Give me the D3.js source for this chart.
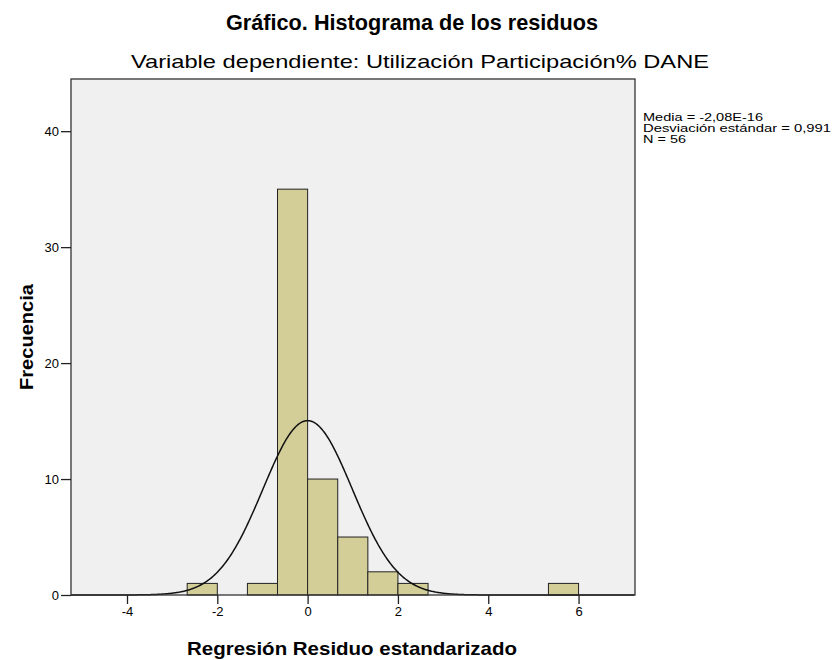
<!DOCTYPE html>
<meta charset="utf-8">
<style>
body { margin: 0; background: #fff; }
text { font-family: "Liberation Sans", Arial, sans-serif; fill: #000; }
.axis path { display: none; }
.axis line { stroke: #222; stroke-width: 1.3px; }
.axis text { font-size: 13px; fill: #000; }
.bar { fill: #d3ce97; stroke: #222; stroke-width: 1px; }
.curve { fill: none; stroke: #111; stroke-width: 1.5px; }
</style>
<svg id="chart" width="836" height="660"></svg>
<script src="https://d3js.org/d3.v7.min.js"></script>
<script>

// histogram bins (lower edge of each bin) and frequencies
var binLow = [-2.667, -1.333, -0.667, 0, 0.667, 1.333, 2, 5.333];
var counts = [1, 1, 35, 10, 5, 2, 1, 1];
var binWidth = 0.667;

// summary stats shown in the legend
var mean = -2.08e-16;
var sd = 0.991;
var n = 56;
var statLines = ["Media = -2,08E-16", "Desviación estándar = 0,991", "N = 56"];
var statWidths = [120, 188, 43];

var xTicks = [-4, -2, 0, 2, 4, 6];
var yTicks = [0, 10, 20, 30, 40];

var svg = d3.select("#chart"),
    plotLeft = 71, plotRight = 635, plotTop = 79, plotBottom = 595;

var x = d3.scaleLinear().domain([-5.24, 7.25]).range([plotLeft, plotRight]);
var y = d3.scaleLinear().domain([0, 44.5]).range([plotBottom, plotTop]);

svg.append("rect")
    .attr("x", plotLeft).attr("y", plotTop)
    .attr("width", plotRight - plotLeft).attr("height", plotBottom - plotTop)
    .attr("fill", "#f0f0f0");

var bins = binLow.map(function(b, i) { return { x0: b, x1: b + binWidth, count: counts[i] }; });

svg.append("g").selectAll("rect")
    .data(bins)
  .enter().append("rect")
    .attr("class", "bar")
    .attr("x", function(d) { return x(d.x0); })
    .attr("width", function(d) { return x(d.x1) - x(d.x0); })
    .attr("y", function(d) { return y(d.count); })
    .attr("height", function(d) { return y(0) - y(d.count); });

// normal curve scaled to the histogram
var xs = d3.range(x.domain()[0], x.domain()[1], 0.02);
var normal = function(v) {
  var z = (v - mean) / sd;
  return n * binWidth * Math.exp(-0.5 * z * z) / (sd * Math.sqrt(2 * Math.PI));
};
svg.append("path")
    .datum(xs)
    .attr("class", "curve")
    .attr("d", d3.line().x(function(d) { return x(d); }).y(function(d) { return y(normal(d)); }));

// frame
svg.append("rect")
    .attr("x", plotLeft).attr("y", plotTop)
    .attr("width", plotRight - plotLeft).attr("height", plotBottom - plotTop)
    .attr("fill", "none").attr("stroke", "#333").attr("stroke-width", 1.3);

svg.append("g")
    .attr("class", "axis")
    .attr("transform", "translate(0," + plotBottom + ")")
    .call(d3.axisBottom(x).tickValues(xTicks).tickSize(9).tickPadding(3)
      .tickFormat(function(d) { return String(d).replace("−", "-"); }));

svg.append("g")
    .attr("class", "axis")
    .attr("transform", "translate(" + plotLeft + ",0)")
    .call(d3.axisLeft(y).tickValues(yTicks).tickSize(10).tickPadding(2));

svg.append("text")
    .attr("x", 412).attr("y", 30)
    .attr("text-anchor", "middle")
    .attr("textLength", 372).attr("lengthAdjust", "spacingAndGlyphs")
    .style("font-size", "22px").style("font-weight", "bold")
    .text("Gráfico. Histograma de los residuos");

svg.append("text")
    .attr("x", 420).attr("y", 68)
    .attr("text-anchor", "middle")
    .attr("textLength", 578).attr("lengthAdjust", "spacingAndGlyphs")
    .style("font-size", "18.5px")
    .text("Variable dependiente: Utilización Participación% DANE");

svg.append("text")
    .attr("x", 352).attr("y", 655)
    .attr("text-anchor", "middle")
    .attr("textLength", 330).attr("lengthAdjust", "spacingAndGlyphs")
    .style("font-size", "19px").style("font-weight", "bold")
    .text("Regresión Residuo estandarizado");

svg.append("text")
    .attr("transform", "translate(33,337) rotate(-90)")
    .attr("text-anchor", "middle")
    .attr("textLength", 106).attr("lengthAdjust", "spacingAndGlyphs")
    .style("font-size", "19px").style("font-weight", "bold")
    .text("Frecuencia");

svg.append("g").selectAll("text")
    .data(statLines)
  .enter().append("text")
    .attr("x", 643)
    .attr("y", function(d, i) { return 120.5 + i * 11; })
    .attr("textLength", function(d, i) { return statWidths[i]; })
    .attr("lengthAdjust", "spacingAndGlyphs")
    .style("font-size", "11.5px")
    .text(function(d) { return d; });

</script>
